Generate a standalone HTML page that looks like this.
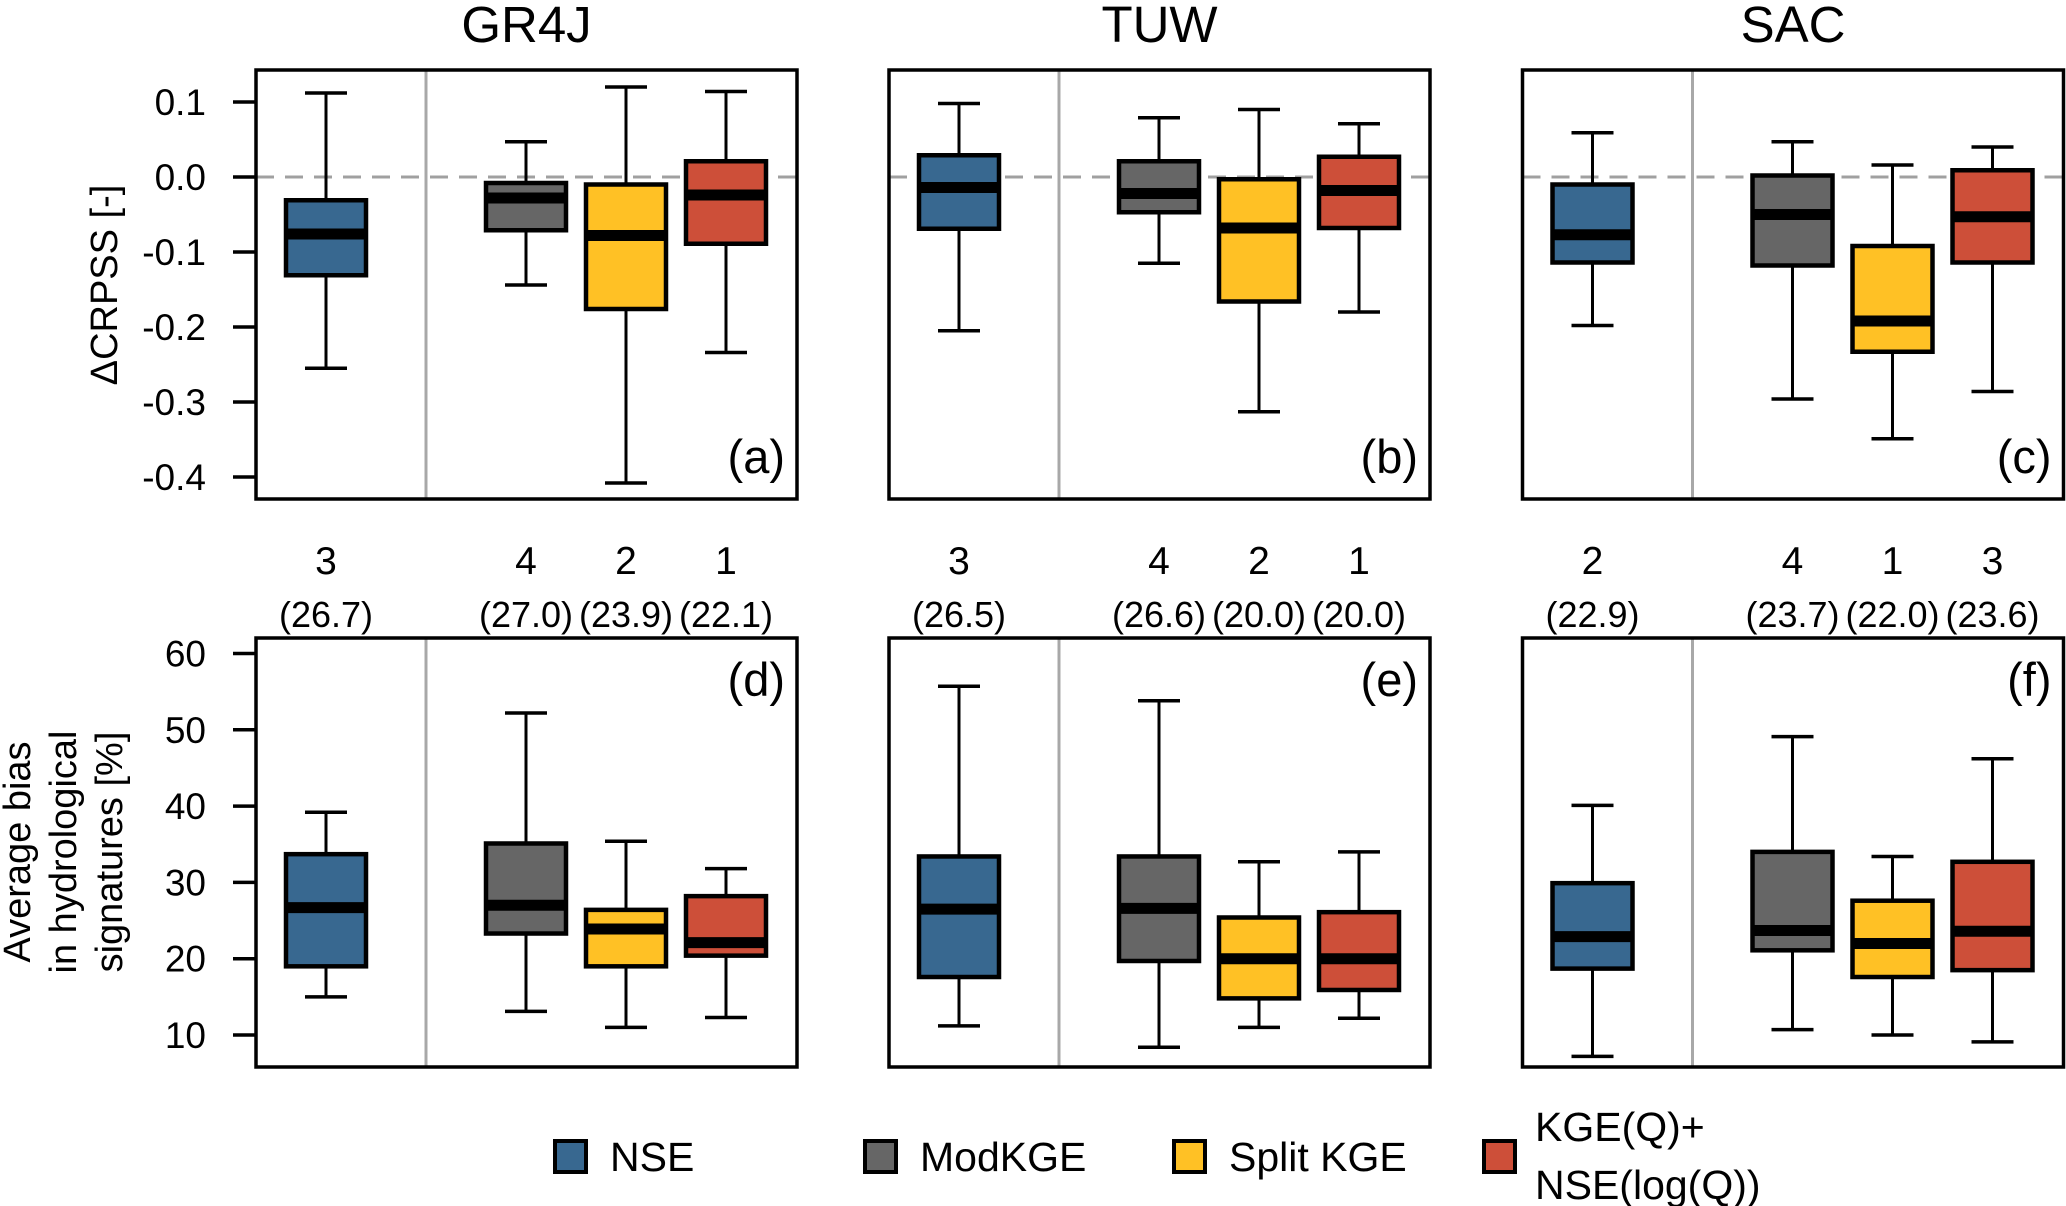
<!DOCTYPE html>
<html><head><meta charset="utf-8">
<style>
html,body{margin:0;padding:0;background:#fff;}
svg{display:block;font-family:"Liberation Sans",Arial,sans-serif;}
</style></head>
<body>
<svg id="chart" width="2066" height="1206" viewBox="0 0 2066 1206" xmlns="http://www.w3.org/2000/svg"></svg>
<script>
// ---- data: [lowerWhisker, q1, median, q3, upperWhisker] per objective (NSE, ModKGE, Split KGE, KGE+NSElog)
const models = ["GR4J", "TUW", "SAC"];
const objectives = ["NSE", "ModKGE", "Split KGE", "KGE(Q)+NSE(log(Q))"];
const crpssGR4J = [[-0.255,-0.131,-0.076,-0.031,0.112],[-0.144,-0.071,-0.028,-0.008,0.047],[-0.408,-0.176,-0.078,-0.010,0.120],[-0.234,-0.089,-0.024,0.021,0.114]];
const crpssTUW  = [[-0.205,-0.069,-0.014,0.029,0.098],[-0.115,-0.047,-0.022,0.021,0.079],[-0.313,-0.166,-0.068,-0.003,0.090],[-0.180,-0.068,-0.018,0.027,0.071]];
const crpssSAC  = [[-0.198,-0.114,-0.077,-0.010,0.059],[-0.296,-0.118,-0.050,0.002,0.047],[-0.349,-0.233,-0.192,-0.092,0.016],[-0.286,-0.114,-0.053,0.009,0.040]];
const biasGR4J = [[15.0,19.0,26.7,33.7,39.2],[13.1,23.3,27.0,35.1,52.2],[11.0,19.0,23.9,26.4,35.4],[12.3,20.4,22.1,28.2,31.8]];
const biasTUW  = [[11.2,17.6,26.5,33.4,55.7],[8.4,19.7,26.6,33.4,53.8],[11.0,14.8,20.0,25.4,32.7],[12.2,15.9,20.0,26.1,34.0]];
const biasSAC  = [[7.2,18.7,22.9,29.9,40.1],[10.7,21.1,23.7,34.0,49.1],[10.0,17.6,22.0,27.6,33.4],[9.1,18.5,23.6,32.7,46.2]];
const ranksGR4J = ["3","4","2","1"];
const ranksTUW = ["3","4","2","1"];
const ranksSAC = ["2","4","1","3"];
const medLabelsGR4J = ["(26.7)","(27.0)","(23.9)","(22.1)"];
const medLabelsTUW = ["(26.5)","(26.6)","(20.0)","(20.0)"];
const medLabelsSAC = ["(22.9)","(23.7)","(22.0)","(23.6)"];
const crpssTicks = [0.1, 0.0, -0.1, -0.2, -0.3, -0.4];
const crpssTickLabels = ["0.1","0.0","-0.1","-0.2","-0.3","-0.4"];
const biasTicks = [60, 50, 40, 30, 20, 10];
const biasTickLabels = ["60","50","40","30","20","10"];
const panelLetters = ["(a)","(b)","(c)","(d)","(e)","(f)"];

const crpssData = [crpssGR4J, crpssTUW, crpssSAC];
const biasData = [biasGR4J, biasTUW, biasSAC];
const rankData = [ranksGR4J, ranksTUW, ranksSAC];
const medLabelData = [medLabelsGR4J, medLabelsTUW, medLabelsSAC];

const colors = ["#386890", "#666666", "#FFC125", "#CD4F39"];
const slots = [1, 3, 4, 5];
const NS = "http://www.w3.org/2000/svg";
const svg = document.getElementById("chart");
const panelLefts = [256, 889, 1522.5];
const panelW = 541;
const topY0 = 70, topY1 = 499;
const botY0 = 638, botY1 = 1067;

function xPos(left, p) { return left + (p - 0.3) * 100; }
function yCrpss(v) { return 177 - v * 750; }
function yBias(v) { return 1035 - (v - 10) * 7.63; }

function mk(tag, attrs, parent) {
  const e = document.createElementNS(NS, tag);
  for (const k in attrs) e.setAttribute(k, attrs[k]);
  (parent || svg).appendChild(e);
  return e;
}
function txt(str, attrs, parent) {
  const e = mk("text", attrs, parent);
  e.textContent = str;
  return e;
}

function drawPanel(mi, isTop) {
  const left = panelLefts[mi];
  const y0 = isTop ? topY0 : botY0, y1 = isTop ? topY1 : botY1;
  const yf = isTop ? yCrpss : yBias;
  const data = isTop ? crpssData[mi] : biasData[mi];
  const g = mk("g", {});
  
  
  const sep = mk("line", {x1: xPos(left, 2), x2: xPos(left, 2), y1: y0, y2: y1, stroke: "#a8a8a8", "stroke-width": 3}, g);
  
  
  if (isTop) {
    const zl = mk("line", {x1: left, x2: left + panelW, y1: yf(0), y2: yf(0), stroke: "#a0a0a0", "stroke-width": 3, "stroke-dasharray": "18 11"}, g);
    
    
  }
  data.forEach((d, i) => {
    const cx = xPos(left, slots[i]);
    const bw = 80, cap = 42;
    const bg = mk("g", {}, g);
    
    
    mk("line", {x1: cx, x2: cx, y1: yf(d[4]), y2: yf(d[3]), stroke: "#000", "stroke-width": 3}, bg);
    mk("line", {x1: cx, x2: cx, y1: yf(d[1]), y2: yf(d[0]), stroke: "#000", "stroke-width": 3}, bg);
    mk("line", {x1: cx - cap/2, x2: cx + cap/2, y1: yf(d[4]), y2: yf(d[4]), stroke: "#000", "stroke-width": 3.5}, bg);
    mk("line", {x1: cx - cap/2, x2: cx + cap/2, y1: yf(d[0]), y2: yf(d[0]), stroke: "#000", "stroke-width": 3.5}, bg);
    mk("rect", {x: cx - bw/2, y: yf(d[3]), width: bw, height: yf(d[1]) - yf(d[3]), fill: colors[i], stroke: "#000", "stroke-width": 4.5}, bg);
    mk("line", {x1: cx - bw/2, x2: cx + bw/2, y1: yf(d[2]), y2: yf(d[2]), stroke: "#000", "stroke-width": 11}, bg);
  });
  const fr = mk("rect", {x: left, y: y0, width: panelW, height: y1 - y0, fill: "none", stroke: "#000", "stroke-width": 3.5}, g);
  
  
  const letter = panelLetters[mi + (isTop ? 0 : 3)];
  const lt = txt(letter, {x: left + panelW - 12, y: isTop ? y1 - 26 : y0 + 58, "text-anchor": "end", "font-size": 47}, g);
  
  
  if (mi === 0) {
    const ticks = isTop ? crpssTicks : biasTicks;
    const labels = isTop ? crpssTickLabels : biasTickLabels;
    const ax = mk("g", {}, g);
    
    
    ticks.forEach((t, k) => {
      mk("line", {x1: left - 23, x2: left, y1: yf(t), y2: yf(t), stroke: "#000", "stroke-width": 3.5}, ax);
      txt(labels[k], {x: 206, y: yf(t) + 13, "text-anchor": "end", "font-size": 37}, ax);
    });
  }
}

models.forEach((m, mi) => {
  const left = panelLefts[mi];
  const t = txt(m, {x: left + panelW / 2, y: 42, "text-anchor": "middle", "font-size": 51});
  
  
  drawPanel(mi, true);
  drawPanel(mi, false);
  rankData[mi].forEach((r, i) => {
    const cx = xPos(left, slots[i]);
    const rt = txt(r, {x: cx, y: 574, "text-anchor": "middle", "font-size": 39});
    
    
    const mt = txt(medLabelData[mi][i], {x: cx, y: 627, "text-anchor": "middle", "font-size": 36});
    
    
  });
});

const yt1 = txt("\u0394CRPSS [-]", {x: 0, y: 0, "text-anchor": "middle", "font-size": 38, transform: "translate(117,285) rotate(-90)"});


const yt2 = mk("text", {"text-anchor": "middle", "font-size": 38, transform: "translate(0,852) rotate(-90)"});


["Average bias", "in hydrological", "signatures [%]"].forEach((s, k) => {
  const ts = mk("tspan", {x: 0, y: 30 + k * 46}, yt2);
  ts.textContent = s;
});

const legend = mk("g", {});


const legX = [555, 865, 1174, 1484];
objectives.forEach((o, i) => {
  const lg = mk("g", {}, legend);
  
  
  mk("rect", {x: legX[i], y: 1141, width: 31, height: 31, fill: colors[i], stroke: "#000", "stroke-width": 4}, lg);
  if (i < 3) {
    txt(o, {x: legX[i] + 55, y: 1171, "font-size": 41}, lg);
  } else {
    txt("KGE(Q)+", {x: legX[i] + 51, y: 1141, "font-size": 41}, lg);
    txt("NSE(log(Q))", {x: legX[i] + 51, y: 1199, "font-size": 41}, lg);
  }
});
</script>
</body></html>
